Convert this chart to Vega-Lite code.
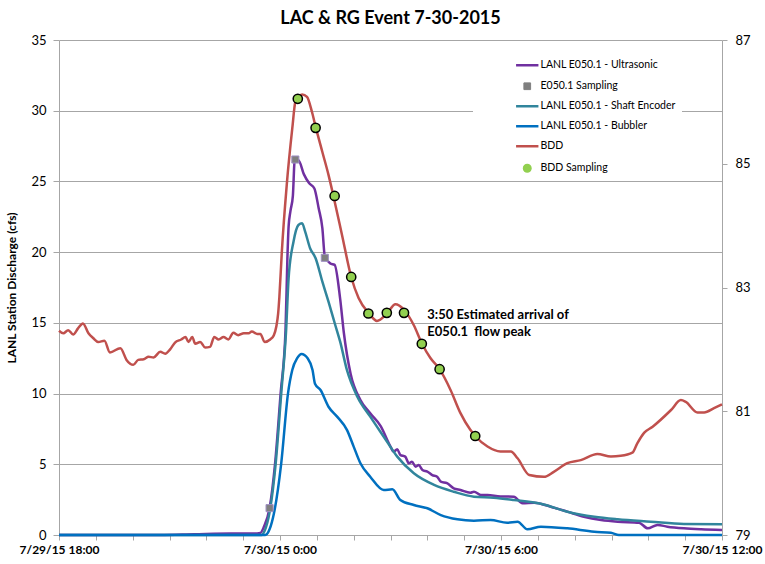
{
  "$schema": "https://vega.github.io/schema/vega-lite/v6.json",
  "width": 663,
  "height": 495,
  "autosize": "none",
  "padding": {"left": 59, "top": 40, "right": 43, "bottom": 29},
  "background": "white",
  "title": {"text": "LAC & RG Event 7-30-2015", "font": "Lato", "fontSize": 18, "fontWeight": "bold", "color": "#000000", "anchor": "middle", "offset": 6},
  "config": {
    "font": "Lato",
    "view": {"stroke": null},
    "axis": {"domainColor": "#a6a6a6", "tickColor": "#a6a6a6", "gridColor": "#a6a6a6", "labelColor": "#000000", "labelFont": "Lato", "titleColor": "#000000", "titleFont": "Lato"}
  },
  "datasets": {
    "lanl": [
      {"s": "LANL E050.1 - Ultrasonic", "t": "2015-07-29T18:00", "v": 0},
      {"s": "LANL E050.1 - Ultrasonic", "t": "2015-07-29T20:45", "v": 0},
      {"s": "LANL E050.1 - Ultrasonic", "t": "2015-07-29T21:40", "v": 0.05},
      {"s": "LANL E050.1 - Ultrasonic", "t": "2015-07-29T22:40", "v": 0.1},
      {"s": "LANL E050.1 - Ultrasonic", "t": "2015-07-29T23:15", "v": 0.1},
      {"s": "LANL E050.1 - Ultrasonic", "t": "2015-07-29T23:28", "v": 0.15},
      {"s": "LANL E050.1 - Ultrasonic", "t": "2015-07-29T23:34", "v": 0.6},
      {"s": "LANL E050.1 - Ultrasonic", "t": "2015-07-29T23:43", "v": 1.9},
      {"s": "LANL E050.1 - Ultrasonic", "t": "2015-07-29T23:52", "v": 5.07},
      {"s": "LANL E050.1 - Ultrasonic", "t": "2015-07-30T00:01", "v": 10.0},
      {"s": "LANL E050.1 - Ultrasonic", "t": "2015-07-30T00:09", "v": 14.5},
      {"s": "LANL E050.1 - Ultrasonic", "t": "2015-07-30T00:12", "v": 19.5},
      {"s": "LANL E050.1 - Ultrasonic", "t": "2015-07-30T00:14", "v": 21.8},
      {"s": "LANL E050.1 - Ultrasonic", "t": "2015-07-30T00:17", "v": 22.9},
      {"s": "LANL E050.1 - Ultrasonic", "t": "2015-07-30T00:21", "v": 24.0},
      {"s": "LANL E050.1 - Ultrasonic", "t": "2015-07-30T00:24", "v": 26.5},
      {"s": "LANL E050.1 - Ultrasonic", "t": "2015-07-30T00:30", "v": 26.5},
      {"s": "LANL E050.1 - Ultrasonic", "t": "2015-07-30T00:39", "v": 25.5},
      {"s": "LANL E050.1 - Ultrasonic", "t": "2015-07-30T00:47", "v": 24.9},
      {"s": "LANL E050.1 - Ultrasonic", "t": "2015-07-30T00:56", "v": 24.5},
      {"s": "LANL E050.1 - Ultrasonic", "t": "2015-07-30T01:03", "v": 23.1},
      {"s": "LANL E050.1 - Ultrasonic", "t": "2015-07-30T01:09", "v": 21.7},
      {"s": "LANL E050.1 - Ultrasonic", "t": "2015-07-30T01:13", "v": 19.7},
      {"s": "LANL E050.1 - Ultrasonic", "t": "2015-07-30T01:22", "v": 19.2},
      {"s": "LANL E050.1 - Ultrasonic", "t": "2015-07-30T01:29", "v": 19.1},
      {"s": "LANL E050.1 - Ultrasonic", "t": "2015-07-30T01:38", "v": 16.7},
      {"s": "LANL E050.1 - Ultrasonic", "t": "2015-07-30T01:44", "v": 14.3},
      {"s": "LANL E050.1 - Ultrasonic", "t": "2015-07-30T01:55", "v": 11.4},
      {"s": "LANL E050.1 - Ultrasonic", "t": "2015-07-30T02:11", "v": 9.55},
      {"s": "LANL E050.1 - Ultrasonic", "t": "2015-07-30T02:27", "v": 8.6},
      {"s": "LANL E050.1 - Ultrasonic", "t": "2015-07-30T02:44", "v": 7.7},
      {"s": "LANL E050.1 - Ultrasonic", "t": "2015-07-30T03:00", "v": 6.25},
      {"s": "LANL E050.1 - Ultrasonic", "t": "2015-07-30T03:05", "v": 5.89},
      {"s": "LANL E050.1 - Ultrasonic", "t": "2015-07-30T03:11", "v": 6.06},
      {"s": "LANL E050.1 - Ultrasonic", "t": "2015-07-30T03:16", "v": 5.66},
      {"s": "LANL E050.1 - Ultrasonic", "t": "2015-07-30T03:24", "v": 5.54},
      {"s": "LANL E050.1 - Ultrasonic", "t": "2015-07-30T03:30", "v": 5.07},
      {"s": "LANL E050.1 - Ultrasonic", "t": "2015-07-30T03:35", "v": 5.18},
      {"s": "LANL E050.1 - Ultrasonic", "t": "2015-07-30T03:41", "v": 4.83},
      {"s": "LANL E050.1 - Ultrasonic", "t": "2015-07-30T03:46", "v": 4.95},
      {"s": "LANL E050.1 - Ultrasonic", "t": "2015-07-30T03:52", "v": 4.6},
      {"s": "LANL E050.1 - Ultrasonic", "t": "2015-07-30T04:00", "v": 4.48},
      {"s": "LANL E050.1 - Ultrasonic", "t": "2015-07-30T04:08", "v": 4.24},
      {"s": "LANL E050.1 - Ultrasonic", "t": "2015-07-30T04:16", "v": 4.12},
      {"s": "LANL E050.1 - Ultrasonic", "t": "2015-07-30T04:22", "v": 3.77},
      {"s": "LANL E050.1 - Ultrasonic", "t": "2015-07-30T04:32", "v": 3.66},
      {"s": "LANL E050.1 - Ultrasonic", "t": "2015-07-30T04:43", "v": 3.3},
      {"s": "LANL E050.1 - Ultrasonic", "t": "2015-07-30T04:54", "v": 3.18},
      {"s": "LANL E050.1 - Ultrasonic", "t": "2015-07-30T05:10", "v": 2.99},
      {"s": "LANL E050.1 - Ultrasonic", "t": "2015-07-30T05:16", "v": 3.06},
      {"s": "LANL E050.1 - Ultrasonic", "t": "2015-07-30T05:27", "v": 2.83},
      {"s": "LANL E050.1 - Ultrasonic", "t": "2015-07-30T05:38", "v": 2.83},
      {"s": "LANL E050.1 - Ultrasonic", "t": "2015-07-30T05:59", "v": 2.72},
      {"s": "LANL E050.1 - Ultrasonic", "t": "2015-07-30T06:21", "v": 2.71},
      {"s": "LANL E050.1 - Ultrasonic", "t": "2015-07-30T06:35", "v": 2.24},
      {"s": "LANL E050.1 - Ultrasonic", "t": "2015-07-30T06:54", "v": 2.28},
      {"s": "LANL E050.1 - Ultrasonic", "t": "2015-07-30T07:21", "v": 2.0},
      {"s": "LANL E050.1 - Ultrasonic", "t": "2015-07-30T07:48", "v": 1.65},
      {"s": "LANL E050.1 - Ultrasonic", "t": "2015-07-30T08:15", "v": 1.29},
      {"s": "LANL E050.1 - Ultrasonic", "t": "2015-07-30T08:43", "v": 1.06},
      {"s": "LANL E050.1 - Ultrasonic", "t": "2015-07-30T09:10", "v": 0.94},
      {"s": "LANL E050.1 - Ultrasonic", "t": "2015-07-30T09:45", "v": 0.87},
      {"s": "LANL E050.1 - Ultrasonic", "t": "2015-07-30T09:59", "v": 0.47},
      {"s": "LANL E050.1 - Ultrasonic", "t": "2015-07-30T10:15", "v": 0.71},
      {"s": "LANL E050.1 - Ultrasonic", "t": "2015-07-30T10:31", "v": 0.59},
      {"s": "LANL E050.1 - Ultrasonic", "t": "2015-07-30T10:58", "v": 0.47},
      {"s": "LANL E050.1 - Ultrasonic", "t": "2015-07-30T11:26", "v": 0.4},
      {"s": "LANL E050.1 - Ultrasonic", "t": "2015-07-30T12:00", "v": 0.35},
      {"s": "E050.1 Sampling", "t": "2015-07-29T23:43", "v": 1.9},
      {"s": "E050.1 Sampling", "t": "2015-07-30T00:25", "v": 26.55},
      {"s": "E050.1 Sampling", "t": "2015-07-30T01:13", "v": 19.6},
      {"s": "LANL E050.1 - Shaft Encoder", "t": "2015-07-29T18:00", "v": 0},
      {"s": "LANL E050.1 - Shaft Encoder", "t": "2015-07-29T23:30", "v": 0},
      {"s": "LANL E050.1 - Shaft Encoder", "t": "2015-07-29T23:35", "v": 0.3},
      {"s": "LANL E050.1 - Shaft Encoder", "t": "2015-07-29T23:43", "v": 1.6},
      {"s": "LANL E050.1 - Shaft Encoder", "t": "2015-07-29T23:53", "v": 5.07},
      {"s": "LANL E050.1 - Shaft Encoder", "t": "2015-07-30T00:02", "v": 10.0},
      {"s": "LANL E050.1 - Shaft Encoder", "t": "2015-07-30T00:10", "v": 14.5},
      {"s": "LANL E050.1 - Shaft Encoder", "t": "2015-07-30T00:14", "v": 18.15},
      {"s": "LANL E050.1 - Shaft Encoder", "t": "2015-07-30T00:22", "v": 20.74},
      {"s": "LANL E050.1 - Shaft Encoder", "t": "2015-07-30T00:30", "v": 21.92},
      {"s": "LANL E050.1 - Shaft Encoder", "t": "2015-07-30T00:36", "v": 22.04},
      {"s": "LANL E050.1 - Shaft Encoder", "t": "2015-07-30T00:41", "v": 21.45},
      {"s": "LANL E050.1 - Shaft Encoder", "t": "2015-07-30T00:49", "v": 20.28},
      {"s": "LANL E050.1 - Shaft Encoder", "t": "2015-07-30T00:58", "v": 19.57},
      {"s": "LANL E050.1 - Shaft Encoder", "t": "2015-07-30T01:09", "v": 17.91},
      {"s": "LANL E050.1 - Shaft Encoder", "t": "2015-07-30T01:19", "v": 16.5},
      {"s": "LANL E050.1 - Shaft Encoder", "t": "2015-07-30T01:30", "v": 14.85},
      {"s": "LANL E050.1 - Shaft Encoder", "t": "2015-07-30T01:38", "v": 13.67},
      {"s": "LANL E050.1 - Shaft Encoder", "t": "2015-07-30T01:49", "v": 11.67},
      {"s": "LANL E050.1 - Shaft Encoder", "t": "2015-07-30T02:06", "v": 9.78},
      {"s": "LANL E050.1 - Shaft Encoder", "t": "2015-07-30T02:27", "v": 8.37},
      {"s": "LANL E050.1 - Shaft Encoder", "t": "2015-07-30T02:49", "v": 6.95},
      {"s": "LANL E050.1 - Shaft Encoder", "t": "2015-07-30T03:11", "v": 5.54},
      {"s": "LANL E050.1 - Shaft Encoder", "t": "2015-07-30T03:38", "v": 4.36},
      {"s": "LANL E050.1 - Shaft Encoder", "t": "2015-07-30T04:11", "v": 3.54},
      {"s": "LANL E050.1 - Shaft Encoder", "t": "2015-07-30T04:43", "v": 3.06},
      {"s": "LANL E050.1 - Shaft Encoder", "t": "2015-07-30T05:16", "v": 2.71},
      {"s": "LANL E050.1 - Shaft Encoder", "t": "2015-07-30T05:48", "v": 2.64},
      {"s": "LANL E050.1 - Shaft Encoder", "t": "2015-07-30T06:21", "v": 2.48},
      {"s": "LANL E050.1 - Shaft Encoder", "t": "2015-07-30T07:05", "v": 2.21},
      {"s": "LANL E050.1 - Shaft Encoder", "t": "2015-07-30T07:48", "v": 1.65},
      {"s": "LANL E050.1 - Shaft Encoder", "t": "2015-07-30T08:32", "v": 1.29},
      {"s": "LANL E050.1 - Shaft Encoder", "t": "2015-07-30T09:10", "v": 1.11},
      {"s": "LANL E050.1 - Shaft Encoder", "t": "2015-07-30T10:04", "v": 0.94},
      {"s": "LANL E050.1 - Shaft Encoder", "t": "2015-07-30T10:58", "v": 0.78},
      {"s": "LANL E050.1 - Shaft Encoder", "t": "2015-07-30T12:00", "v": 0.76},
      {"s": "LANL E050.1 - Bubbler", "t": "2015-07-29T18:00", "v": 0},
      {"s": "LANL E050.1 - Bubbler", "t": "2015-07-29T23:36", "v": 0},
      {"s": "LANL E050.1 - Bubbler", "t": "2015-07-29T23:43", "v": 0.4},
      {"s": "LANL E050.1 - Bubbler", "t": "2015-07-29T23:50", "v": 1.5},
      {"s": "LANL E050.1 - Bubbler", "t": "2015-07-30T00:02", "v": 5.07},
      {"s": "LANL E050.1 - Bubbler", "t": "2015-07-30T00:13", "v": 10.0},
      {"s": "LANL E050.1 - Bubbler", "t": "2015-07-30T00:20", "v": 11.67},
      {"s": "LANL E050.1 - Bubbler", "t": "2015-07-30T00:28", "v": 12.5},
      {"s": "LANL E050.1 - Bubbler", "t": "2015-07-30T00:35", "v": 12.8},
      {"s": "LANL E050.1 - Bubbler", "t": "2015-07-30T00:45", "v": 12.5},
      {"s": "LANL E050.1 - Bubbler", "t": "2015-07-30T00:53", "v": 11.67},
      {"s": "LANL E050.1 - Bubbler", "t": "2015-07-30T00:57", "v": 10.7},
      {"s": "LANL E050.1 - Bubbler", "t": "2015-07-30T01:06", "v": 10.25},
      {"s": "LANL E050.1 - Bubbler", "t": "2015-07-30T01:19", "v": 9.07},
      {"s": "LANL E050.1 - Bubbler", "t": "2015-07-30T01:33", "v": 8.37},
      {"s": "LANL E050.1 - Bubbler", "t": "2015-07-30T01:49", "v": 7.43},
      {"s": "LANL E050.1 - Bubbler", "t": "2015-07-30T02:00", "v": 6.25},
      {"s": "LANL E050.1 - Bubbler", "t": "2015-07-30T02:11", "v": 5.07},
      {"s": "LANL E050.1 - Bubbler", "t": "2015-07-30T02:27", "v": 4.12},
      {"s": "LANL E050.1 - Bubbler", "t": "2015-07-30T02:49", "v": 3.18},
      {"s": "LANL E050.1 - Bubbler", "t": "2015-07-30T03:03", "v": 3.23},
      {"s": "LANL E050.1 - Bubbler", "t": "2015-07-30T03:16", "v": 2.48},
      {"s": "LANL E050.1 - Bubbler", "t": "2015-07-30T03:38", "v": 2.12},
      {"s": "LANL E050.1 - Bubbler", "t": "2015-07-30T04:00", "v": 1.89},
      {"s": "LANL E050.1 - Bubbler", "t": "2015-07-30T04:22", "v": 1.41},
      {"s": "LANL E050.1 - Bubbler", "t": "2015-07-30T04:49", "v": 1.11},
      {"s": "LANL E050.1 - Bubbler", "t": "2015-07-30T05:16", "v": 1.01},
      {"s": "LANL E050.1 - Bubbler", "t": "2015-07-30T05:43", "v": 1.06},
      {"s": "LANL E050.1 - Bubbler", "t": "2015-07-30T06:10", "v": 0.87},
      {"s": "LANL E050.1 - Bubbler", "t": "2015-07-30T06:27", "v": 0.94},
      {"s": "LANL E050.1 - Bubbler", "t": "2015-07-30T06:43", "v": 0.4},
      {"s": "LANL E050.1 - Bubbler", "t": "2015-07-30T07:05", "v": 0.59},
      {"s": "LANL E050.1 - Bubbler", "t": "2015-07-30T07:48", "v": 0.47},
      {"s": "LANL E050.1 - Bubbler", "t": "2015-07-30T08:32", "v": 0.23},
      {"s": "LANL E050.1 - Bubbler", "t": "2015-07-30T08:59", "v": 0.16},
      {"s": "LANL E050.1 - Bubbler", "t": "2015-07-30T09:12", "v": 0},
      {"s": "LANL E050.1 - Bubbler", "t": "2015-07-30T12:00", "v": 0}
    ],
    "bdd": [
      {"s": "BDD", "t": "2015-07-29T18:00", "v": 82.30},
      {"s": "BDD", "t": "2015-07-29T18:07", "v": 82.26},
      {"s": "BDD", "t": "2015-07-29T18:15", "v": 82.31},
      {"s": "BDD", "t": "2015-07-29T18:23", "v": 82.24},
      {"s": "BDD", "t": "2015-07-29T18:31", "v": 82.34},
      {"s": "BDD", "t": "2015-07-29T18:39", "v": 82.42},
      {"s": "BDD", "t": "2015-07-29T18:48", "v": 82.26},
      {"s": "BDD", "t": "2015-07-29T18:56", "v": 82.18},
      {"s": "BDD", "t": "2015-07-29T19:04", "v": 82.12},
      {"s": "BDD", "t": "2015-07-29T19:14", "v": 82.14},
      {"s": "BDD", "t": "2015-07-29T19:23", "v": 81.95},
      {"s": "BDD", "t": "2015-07-29T19:40", "v": 82.02},
      {"s": "BDD", "t": "2015-07-29T19:50", "v": 81.83},
      {"s": "BDD", "t": "2015-07-29T20:01", "v": 81.75},
      {"s": "BDD", "t": "2015-07-29T20:09", "v": 81.83},
      {"s": "BDD", "t": "2015-07-29T20:18", "v": 81.84},
      {"s": "BDD", "t": "2015-07-29T20:26", "v": 81.88},
      {"s": "BDD", "t": "2015-07-29T20:34", "v": 81.87},
      {"s": "BDD", "t": "2015-07-29T20:45", "v": 81.96},
      {"s": "BDD", "t": "2015-07-29T20:53", "v": 81.93},
      {"s": "BDD", "t": "2015-07-29T21:01", "v": 82.00},
      {"s": "BDD", "t": "2015-07-29T21:09", "v": 82.11},
      {"s": "BDD", "t": "2015-07-29T21:19", "v": 82.16},
      {"s": "BDD", "t": "2015-07-29T21:26", "v": 82.20},
      {"s": "BDD", "t": "2015-07-29T21:31", "v": 82.12},
      {"s": "BDD", "t": "2015-07-29T21:37", "v": 82.20},
      {"s": "BDD", "t": "2015-07-29T21:42", "v": 82.09},
      {"s": "BDD", "t": "2015-07-29T21:50", "v": 82.12},
      {"s": "BDD", "t": "2015-07-29T21:58", "v": 82.03},
      {"s": "BDD", "t": "2015-07-29T22:06", "v": 82.04},
      {"s": "BDD", "t": "2015-07-29T22:13", "v": 82.20},
      {"s": "BDD", "t": "2015-07-29T22:20", "v": 82.16},
      {"s": "BDD", "t": "2015-07-29T22:28", "v": 82.20},
      {"s": "BDD", "t": "2015-07-29T22:36", "v": 82.16},
      {"s": "BDD", "t": "2015-07-29T22:44", "v": 82.27},
      {"s": "BDD", "t": "2015-07-29T22:52", "v": 82.23},
      {"s": "BDD", "t": "2015-07-29T23:01", "v": 82.26},
      {"s": "BDD", "t": "2015-07-29T23:09", "v": 82.26},
      {"s": "BDD", "t": "2015-07-29T23:14", "v": 82.29},
      {"s": "BDD", "t": "2015-07-29T23:23", "v": 82.25},
      {"s": "BDD", "t": "2015-07-29T23:28", "v": 82.25},
      {"s": "BDD", "t": "2015-07-29T23:35", "v": 82.12},
      {"s": "BDD", "t": "2015-07-29T23:44", "v": 82.16},
      {"s": "BDD", "t": "2015-07-29T23:50", "v": 82.23},
      {"s": "BDD", "t": "2015-07-29T23:54", "v": 82.37},
      {"s": "BDD", "t": "2015-07-29T23:57", "v": 82.58},
      {"s": "BDD", "t": "2015-07-29T23:59", "v": 82.85},
      {"s": "BDD", "t": "2015-07-30T00:03", "v": 83.58},
      {"s": "BDD", "t": "2015-07-30T00:11", "v": 84.66},
      {"s": "BDD", "t": "2015-07-30T00:20", "v": 85.57},
      {"s": "BDD", "t": "2015-07-30T00:25", "v": 86.00},
      {"s": "BDD", "t": "2015-07-30T00:30", "v": 86.08},
      {"s": "BDD", "t": "2015-07-30T00:36", "v": 86.12},
      {"s": "BDD", "t": "2015-07-30T00:44", "v": 86.08},
      {"s": "BDD", "t": "2015-07-30T00:52", "v": 85.84},
      {"s": "BDD", "t": "2015-07-30T00:58", "v": 85.60},
      {"s": "BDD", "t": "2015-07-30T01:09", "v": 85.19},
      {"s": "BDD", "t": "2015-07-30T01:19", "v": 84.82},
      {"s": "BDD", "t": "2015-07-30T01:27", "v": 84.48},
      {"s": "BDD", "t": "2015-07-30T01:41", "v": 83.85},
      {"s": "BDD", "t": "2015-07-30T01:56", "v": 83.17},
      {"s": "BDD", "t": "2015-07-30T02:08", "v": 82.83},
      {"s": "BDD", "t": "2015-07-30T02:25", "v": 82.58},
      {"s": "BDD", "t": "2015-07-30T02:38", "v": 82.46},
      {"s": "BDD", "t": "2015-07-30T02:55", "v": 82.59},
      {"s": "BDD", "t": "2015-07-30T03:08", "v": 82.73},
      {"s": "BDD", "t": "2015-07-30T03:22", "v": 82.64},
      {"s": "BDD", "t": "2015-07-30T03:38", "v": 82.39},
      {"s": "BDD", "t": "2015-07-30T03:51", "v": 82.10},
      {"s": "BDD", "t": "2015-07-30T04:05", "v": 81.86},
      {"s": "BDD", "t": "2015-07-30T04:20", "v": 81.68},
      {"s": "BDD", "t": "2015-07-30T04:38", "v": 81.34},
      {"s": "BDD", "t": "2015-07-30T04:54", "v": 80.97},
      {"s": "BDD", "t": "2015-07-30T05:10", "v": 80.70},
      {"s": "BDD", "t": "2015-07-30T05:18", "v": 80.60},
      {"s": "BDD", "t": "2015-07-30T05:38", "v": 80.43},
      {"s": "BDD", "t": "2015-07-30T05:59", "v": 80.35},
      {"s": "BDD", "t": "2015-07-30T06:16", "v": 80.35},
      {"s": "BDD", "t": "2015-07-30T06:27", "v": 80.24},
      {"s": "BDD", "t": "2015-07-30T06:46", "v": 79.97},
      {"s": "BDD", "t": "2015-07-30T07:10", "v": 79.94},
      {"s": "BDD", "t": "2015-07-30T07:26", "v": 80.02},
      {"s": "BDD", "t": "2015-07-30T07:48", "v": 80.16},
      {"s": "BDD", "t": "2015-07-30T08:10", "v": 80.21},
      {"s": "BDD", "t": "2015-07-30T08:37", "v": 80.31},
      {"s": "BDD", "t": "2015-07-30T08:59", "v": 80.27},
      {"s": "BDD", "t": "2015-07-30T09:15", "v": 80.28},
      {"s": "BDD", "t": "2015-07-30T09:34", "v": 80.33},
      {"s": "BDD", "t": "2015-07-30T09:42", "v": 80.48},
      {"s": "BDD", "t": "2015-07-30T09:53", "v": 80.65},
      {"s": "BDD", "t": "2015-07-30T10:07", "v": 80.75},
      {"s": "BDD", "t": "2015-07-30T10:37", "v": 81.02},
      {"s": "BDD", "t": "2015-07-30T10:53", "v": 81.18},
      {"s": "BDD", "t": "2015-07-30T11:01", "v": 81.15},
      {"s": "BDD", "t": "2015-07-30T11:20", "v": 80.98},
      {"s": "BDD", "t": "2015-07-30T11:31", "v": 80.98},
      {"s": "BDD", "t": "2015-07-30T11:47", "v": 81.05},
      {"s": "BDD", "t": "2015-07-30T12:00", "v": 81.11},
      {"s": "BDD Sampling", "t": "2015-07-30T00:29", "v": 86.05},
      {"s": "BDD Sampling", "t": "2015-07-30T00:58", "v": 85.58},
      {"s": "BDD Sampling", "t": "2015-07-30T01:29", "v": 84.48},
      {"s": "BDD Sampling", "t": "2015-07-30T01:56", "v": 83.17},
      {"s": "BDD Sampling", "t": "2015-07-30T02:24", "v": 82.58},
      {"s": "BDD Sampling", "t": "2015-07-30T02:54", "v": 82.59},
      {"s": "BDD Sampling", "t": "2015-07-30T03:22", "v": 82.59},
      {"s": "BDD Sampling", "t": "2015-07-30T03:51", "v": 82.09},
      {"s": "BDD Sampling", "t": "2015-07-30T04:20", "v": 81.68},
      {"s": "BDD Sampling", "t": "2015-07-30T05:18", "v": 80.60}
    ]
  },
  "encoding": {
    "x": {
      "field": "t", "type": "temporal",
      "scale": {"domain": [{"year": 2015, "month": 7, "date": 29, "hours": 18}, {"year": 2015, "month": 7, "date": 30, "hours": 12}]},
      "axis": {
        "title": null, "grid": false,
        "values": [
          {"year": 2015, "month": 7, "date": 29, "hours": 18}, {"year": 2015, "month": 7, "date": 29, "hours": 19}, {"year": 2015, "month": 7, "date": 29, "hours": 20},
          {"year": 2015, "month": 7, "date": 29, "hours": 21}, {"year": 2015, "month": 7, "date": 29, "hours": 22}, {"year": 2015, "month": 7, "date": 29, "hours": 23},
          {"year": 2015, "month": 7, "date": 30, "hours": 0}, {"year": 2015, "month": 7, "date": 30, "hours": 1}, {"year": 2015, "month": 7, "date": 30, "hours": 2},
          {"year": 2015, "month": 7, "date": 30, "hours": 3}, {"year": 2015, "month": 7, "date": 30, "hours": 4}, {"year": 2015, "month": 7, "date": 30, "hours": 5},
          {"year": 2015, "month": 7, "date": 30, "hours": 6}, {"year": 2015, "month": 7, "date": 30, "hours": 7}, {"year": 2015, "month": 7, "date": 30, "hours": 8},
          {"year": 2015, "month": 7, "date": 30, "hours": 9}, {"year": 2015, "month": 7, "date": 30, "hours": 10}, {"year": 2015, "month": 7, "date": 30, "hours": 11},
          {"year": 2015, "month": 7, "date": 30, "hours": 12}
        ],
        "labelExpr": "hours(datum.value) % 6 === 0 ? timeFormat(datum.value, '%-m/%-d/%y %-H:%M') : ''",
        "labelFontWeight": "bold", "labelFontSize": 12, "tickSize": 5, "labelPadding": 4,
        "labelOverlap": false, "labelFlush": false, "labelBound": false
      }
    }
  },
  "layer": [
    {
      "data": {"name": "lanl"},
      "encoding": {
        "y": {
          "field": "v", "type": "quantitative",
          "scale": {"domain": [0, 35], "nice": false},
          "axis": {
            "values": [0, 5, 10, 15, 20, 25, 30, 35], "grid": true, "tickSize": 6,
            "labelFontSize": 13, "labelPadding": 7,
            "title": "LANL Station Discharge (cfs)", "titleFontSize": 12, "titleFontWeight": "bold", "titlePadding": 12
          }
        }
      },
      "layer": [
        {
          "transform": [{"filter": {"field": "s", "oneOf": ["LANL E050.1 - Ultrasonic", "LANL E050.1 - Shaft Encoder", "LANL E050.1 - Bubbler"]}}],
          "mark": {"type": "line", "interpolate": "monotone", "strokeWidth": 2.5},
          "encoding": {
            "color": {
              "field": "s", "type": "nominal",
              "scale": {"domain": ["LANL E050.1 - Ultrasonic", "E050.1 Sampling", "LANL E050.1 - Shaft Encoder", "LANL E050.1 - Bubbler", "BDD", "BDD Sampling"], "range": ["#7030a0", "#7f7f7f", "#31859c", "#0070c0", "#c0504d", "#92d050"]},
              "legend": {
                "title": null, "orient": "none", "legendX": 414, "legendY": 14,
                "fillColor": "white", "padding": 6, "symbolOffset": 43, "labelOffset": 8, "rowPadding": 9,
                "symbolSize": 400, "symbolType": "stroke", "symbolStrokeWidth": 2.5,
                "labelFont": "Lato", "labelFontSize": 10.5, "labelColor": "#000000",
                "encode": {"symbols": {"update": {
                  "shape": {"signal": "datum.value === 'E050.1 Sampling' ? 'square' : datum.value === 'BDD Sampling' ? 'circle' : 'stroke'"},
                  "size": {"signal": "datum.value === 'E050.1 Sampling' ? 45 : datum.value === 'BDD Sampling' ? 60 : 500"},
                  "fill": {"signal": "datum.value === 'E050.1 Sampling' ? '#7f7f7f' : datum.value === 'BDD Sampling' ? '#92d050' : 'transparent'"},
                  "stroke": {"signal": "datum.value === 'E050.1 Sampling' ? '#9e8fc4' : datum.value === 'BDD Sampling' ? '#000000' : datum.value === 'LANL E050.1 - Ultrasonic' ? '#7030a0' : datum.value === 'LANL E050.1 - Shaft Encoder' ? '#31859c' : datum.value === 'LANL E050.1 - Bubbler' ? '#0070c0' : '#c0504d'"},
                  "strokeWidth": {"signal": "datum.value === 'E050.1 Sampling' ? 1 : datum.value === 'BDD Sampling' ? 1.2 : 2.5"}
                }}}
              }
            }
          }
        },
        {
          "transform": [{"filter": {"field": "s", "equal": "E050.1 Sampling"}}],
          "mark": {"type": "point", "shape": "square", "filled": true, "size": 50, "stroke": "#9e8fc4", "strokeWidth": 1, "opacity": 1},
          "encoding": {
            "color": {"field": "s", "type": "nominal"}
          }
        },
        {
          "data": {"values": [
            {"t": "2015-07-30T04:00", "v": 16.0, "note": "3:50 Estimated arrival of"},
            {"t": "2015-07-30T04:00", "v": 14.8, "note": "E050.1\u00a0\u00a0flow peak"}
          ]},
          "mark": {"type": "text", "align": "left", "baseline": "top", "font": "Lato", "fontSize": 13, "fontWeight": "bold", "color": "#000000"},
          "encoding": {"text": {"field": "note", "type": "nominal"}}
        }
      ]
    },
    {
      "data": {"name": "bdd"},
      "encoding": {
        "y": {
          "field": "v", "type": "quantitative",
          "scale": {"domain": [79, 87], "nice": false, "zero": false},
          "axis": {"orient": "right", "values": [79, 81, 83, 85, 87], "grid": false, "tickSize": 5, "labelFontSize": 13, "labelPadding": 8, "title": null}
        }
      },
      "layer": [
        {
          "transform": [{"filter": {"field": "s", "equal": "BDD"}}],
          "mark": {"type": "line", "interpolate": "monotone", "strokeWidth": 2.5},
          "encoding": {"color": {"field": "s", "type": "nominal"}}
        },
        {
          "transform": [{"filter": {"field": "s", "equal": "BDD Sampling"}}],
          "mark": {"type": "point", "shape": "circle", "filled": true, "size": 85, "stroke": "#000000", "strokeWidth": 1.5, "opacity": 1},
          "encoding": {"color": {"field": "s", "type": "nominal"}}
        }
      ]
    }
  ],
  "resolve": {"scale": {"y": "independent"}}
}
